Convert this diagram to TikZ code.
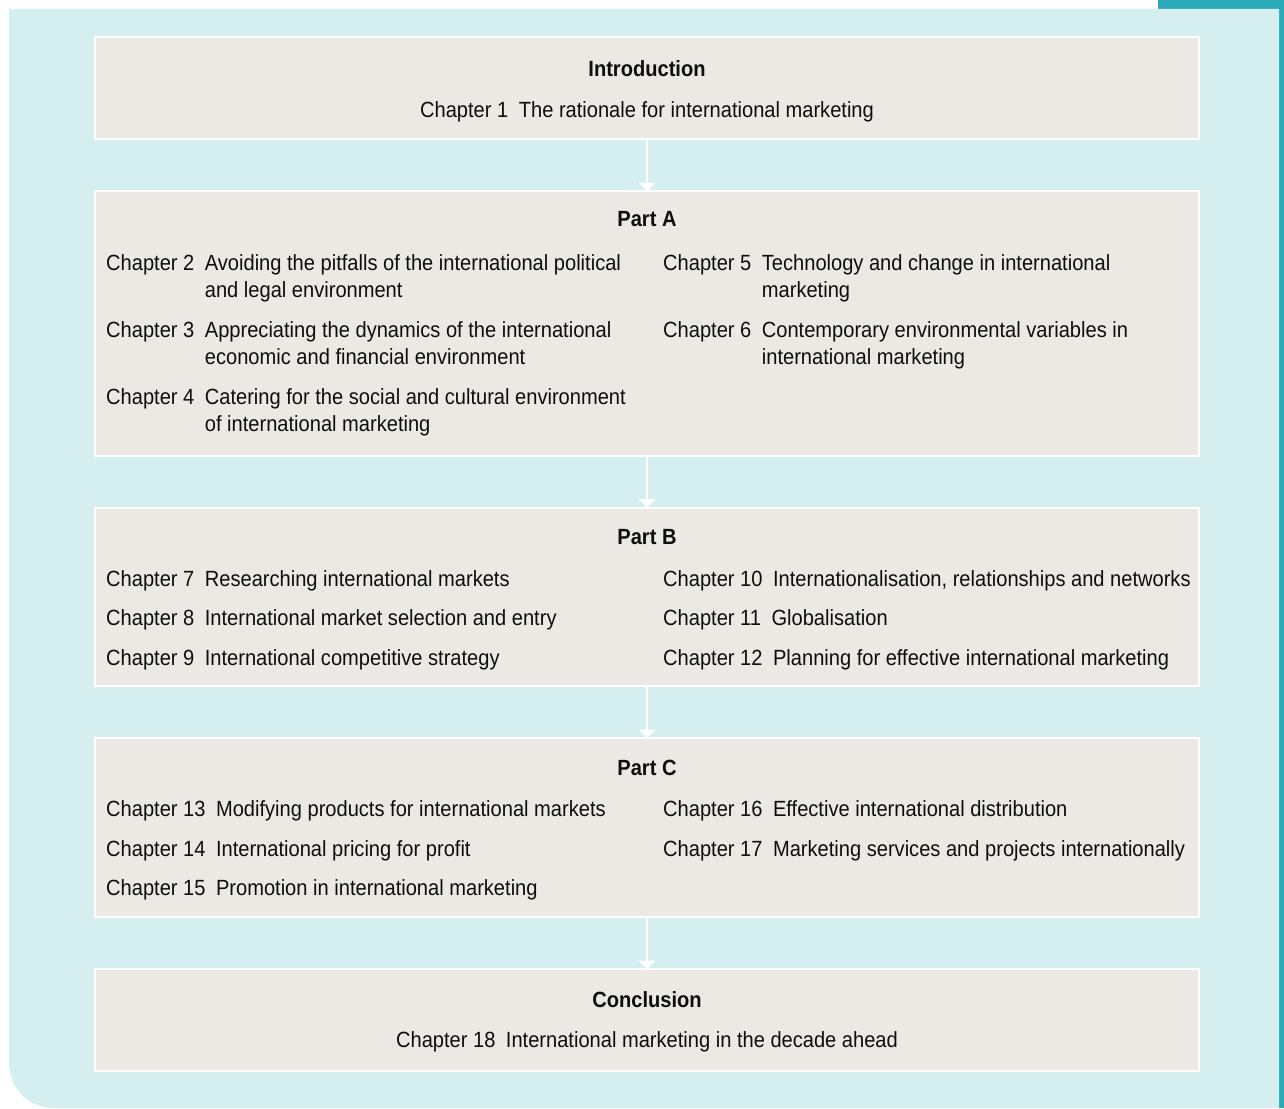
\documentclass[tikz,border=0pt]{standalone}
\usepackage{fontspec}
\setmainfont{Liberation Sans}[FakeStretch=0.913]
\usetikzlibrary{arrows.meta}
\definecolor{bgcyan}{HTML}{D5EEF0}
\definecolor{boxfill}{HTML}{ECE9E5}
\definecolor{tealtab}{HTML}{2AA9B8}
\definecolor{txt}{HTML}{0E0E0E}
\newcommand{\chapitem}[3]{\begin{tabular}[t]{@{}l@{\hspace{10.5pt}}l@{}}Chapter #1 & #2\\ #3\end{tabular}}
\newcommand{\chapone}[2]{\begin{tabular}[t]{@{}l@{\hspace{10.5pt}}l@{}}Chapter #1 & #2\end{tabular}}
\begin{document}
\begin{tikzpicture}[x=1pt,y=-1pt,
  partbox/.style={draw=white, line width=2pt, fill=boxfill},
  headtxt/.style={anchor=base, inner sep=0pt, font=\fontsize{22}{27.5}\selectfont\bfseries, text=txt},
  chaptxt/.style={anchor=base west, inner sep=0pt, font=\fontsize{22}{27.5}\selectfont, text=txt},
  centtxt/.style={anchor=base, inner sep=0pt, font=\fontsize{22}{27.5}\selectfont, text=txt},
  flow/.style={draw=white, line width=1.6pt, -{Triangle[width=17pt,length=8.5pt]}}]
\useasboundingbox (0,0) rectangle (1284,1108);
% background panel
\fill[white] (0,0) rectangle (1284,1108);
\fill[tealtab] (1158,0) rectangle (1284,9);
\fill[tealtab] (1279,0) rectangle (1284,1108);
\fill[bgcyan] (9,9) -- (1279,9) -- (1279,1108) -- (55,1108)
   .. controls (28,1108) and (9,1089) .. (9,1061) -- cycle;
% boxes
\path[partbox] (95,37) rectangle (1199,139);
\path[partbox] (95,191) rectangle (1199,456);
\path[partbox] (95,507.5) rectangle (1199,686);
\path[partbox] (95,738) rectangle (1199,917);
\path[partbox] (95,969) rectangle (1199,1070.5);
\coordinate (b1s) at (647,139);
\coordinate (b2n) at (647,191);
\coordinate (b2s) at (647,456);
\coordinate (b3n) at (647,507.5);
\coordinate (b3s) at (647,686);
\coordinate (b4n) at (647,738);
\coordinate (b4s) at (647,917);
\coordinate (b5n) at (647,969);
\draw[flow] (b1s) -- (b2n);
\draw[flow] (b2s) -- (b3n);
\draw[flow] (b3s) -- (b4n);
\draw[flow] (b4s) -- (b5n);
% Introduction
\node[headtxt] (hI) at (647,76) {Introduction};
\node[centtxt] (c1) at (647,117) {\chapone{1}{The rationale for international marketing}};
% Part A
\node[headtxt] (hA) at (647,226) {Part A};
\node[chaptxt] (c2) at (106,270) {\chapitem{2}{Avoiding the pitfalls of the international political}{& and legal environment}};
\node[chaptxt] (c3) at (106,337) {\chapitem{3}{Appreciating the dynamics of the international}{& economic and financial environment}};
\node[chaptxt] (c4) at (106,404) {\chapitem{4}{Catering for the social and cultural environment}{& of international marketing}};
\node[chaptxt] (c5) at (663,270) {\chapitem{5}{Technology and change in international}{& marketing}};
\node[chaptxt] (c6) at (663,337) {\chapitem{6}{Contemporary environmental variables in}{& international marketing}};
% Part B
\node[headtxt] (hB) at (647,544) {Part B};
\node[chaptxt] (c7) at (106,586) {\chapone{7}{Researching international markets}};
\node[chaptxt] (c8) at (106,625.5) {\chapone{8}{International market selection and entry}};
\node[chaptxt] (c9) at (106,665) {\chapone{9}{International competitive strategy}};
\node[chaptxt] (c10) at (663,586) {\chapone{10}{Internationalisation, relationships and networks}};
\node[chaptxt] (c11) at (663,625.5) {\chapone{11}{Globalisation}};
\node[chaptxt] (c12) at (663,665) {\chapone{12}{Planning for effective international marketing}};
% Part C
\node[headtxt] (hC) at (647,775) {Part C};
\node[chaptxt] (c13) at (106,816.5) {\chapone{13}{Modifying products for international markets}};
\node[chaptxt] (c14) at (106,856) {\chapone{14}{International pricing for profit}};
\node[chaptxt] (c15) at (106,895) {\chapone{15}{Promotion in international marketing}};
\node[chaptxt] (c16) at (663,816.5) {\chapone{16}{Effective international distribution}};
\node[chaptxt] (c17) at (663,856) {\chapone{17}{Marketing services and projects internationally}};
% Conclusion
\node[headtxt] (hD) at (647,1007) {Conclusion};
\node[centtxt] (c18) at (647,1047) {\chapone{18}{International marketing in the decade ahead}};
\end{tikzpicture}
\end{document}
